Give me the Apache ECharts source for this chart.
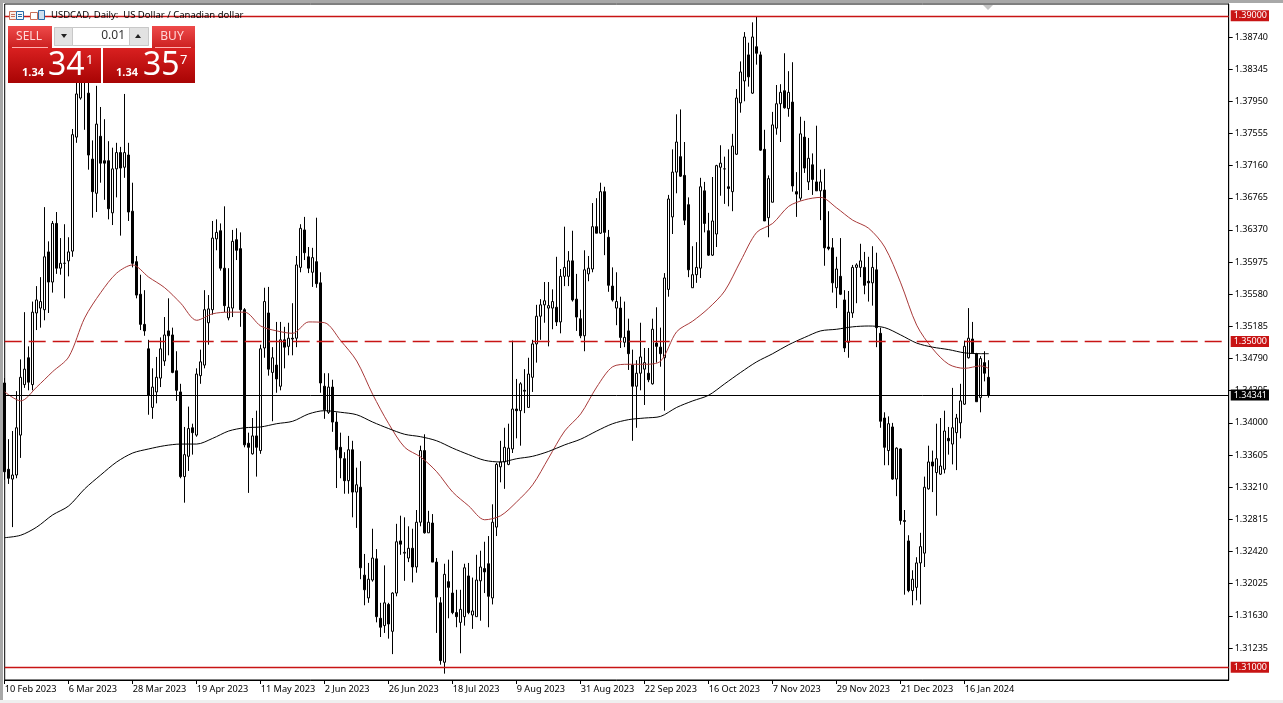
<!DOCTYPE html>
<html><head><meta charset="utf-8">
<style>html,body{margin:0;padding:0;background:#fff}#c{width:1283px;height:703px}</style>
<script src="https://cdn.jsdelivr.net/npm/echarts@6/dist/echarts.min.js"></script>
</head><body><div id="c"></div>
<script>
// prices in 1/10000 units
const opens=[13449,13343,13331,13336,13385,13447,13480,13447,13535,13541,
13539,13610,13573,13645,13590,13596,13599,13611,13751,13799,
13827,13805,13724,13682,13752,13722,13722,13658,13712,13732,
13714,13729,13660,13598,13558,13521,13491,13419,13438,13455,
13476,13513,13508,13464,13438,13334,13359,13394,13385,13458,
13471,13523,13539,13626,13636,13590,13529,13541,13625,13614,
13539,13375,13362,13384,13366,13492,13535,13462,13471,13445,
13502,13494,13504,13504,13591,13637,13604,13585,13598,13572,
13445,13413,13444,13401,13370,13356,13329,13367,13315,13321,
13213,13185,13207,13233,13160,13151,13177,13144,13191,13255,
13240,13234,13246,13223,13278,13366,13265,13277,13229,13179,
13106,13205,13191,13167,13155,13162,13212,13164,13162,13206,
13221,13227,13185,13272,13346,13352,13349,13368,13417,13415,
13440,13419,13456,13497,13531,13545,13541,13541,13542,13524,
13580,13580,13599,13552,13528,13507,13583,13589,13641,13633,
13684,13628,13568,13541,13541,13499,13513,13471,13445,13461,
13466,13461,13448,13498,13493,13480,13564,13653,13708,13727,
13704,13668,13566,13582,13590,13685,13636,13606,13632,13714,
13712,13690,13684,13730,13793,13820,13852,13805,13862,13852,
13736,13652,13671,13762,13792,13808,13786,13794,13684,13676,
13751,13696,13717,13696,13685,13686,13616,13615,13566,13580,
13551,13499,13535,13591,13591,13591,13574,13572,13588,13510,
13406,13366,13395,13331,13368,13280,13255,13194,13198,13228,
13240,13319,13352,13339,13337,13343,13381,13374,13388,13400,
13423,13480,13503,13485,13431,13474,13456];
const highs=[13455,13380,13390,13439,13478,13536,13494,13549,13568,13579,
13665,13623,13648,13659,13627,13644,13628,13761,13821,13846,
13846,13821,13747,13814,13788,13773,13746,13738,13744,13739,
13804,13744,13695,13605,13582,13563,13502,13467,13481,13505,
13530,13553,13517,13488,13448,13395,13420,13399,13467,13490,
13563,13557,13648,13650,13645,13666,13590,13637,13639,13634,
13541,13388,13406,13415,13496,13566,13567,13493,13524,13524,
13518,13523,13547,13605,13644,13653,13616,13615,13652,13585,
13461,13461,13453,13413,13388,13364,13384,13378,13345,13353,
13239,13228,13270,13245,13179,13225,13179,13192,13276,13286,
13284,13273,13270,13293,13372,13386,13292,13288,13234,13186,
13227,13232,13243,13195,13195,13227,13228,13210,13238,13243,
13254,13261,13300,13351,13378,13394,13399,13501,13454,13450,
13466,13480,13502,13545,13552,13573,13573,13564,13604,13589,
13641,13611,13636,13583,13539,13612,13605,13670,13676,13695,
13690,13637,13591,13585,13555,13549,13528,13490,13477,13523,
13492,13492,13528,13542,13517,13584,13680,13736,13779,13785,
13745,13677,13617,13622,13701,13696,13658,13702,13717,13741,
13727,13736,13755,13810,13844,13880,13867,13892,13899,13856,
13760,13704,13782,13815,13816,13854,13832,13843,13708,13776,
13771,13750,13731,13765,13711,13712,13660,13627,13604,13627,
13563,13562,13594,13596,13620,13610,13604,13617,13609,13517,
13413,13408,13400,13370,13369,13293,13262,13219,13235,13265,
13334,13372,13366,13399,13406,13415,13395,13443,13411,13448,
13501,13541,13524,13486,13482,13488,13477];
const lows=[13330,13325,13272,13332,13357,13443,13440,13440,13514,13517,
13526,13535,13560,13583,13582,13553,13580,13604,13744,13797,
13760,13711,13652,13659,13695,13674,13650,13643,13677,13630,
13701,13648,13591,13553,13514,13507,13410,13405,13424,13444,
13470,13483,13461,13427,13332,13302,13341,13361,13383,13448,
13467,13496,13533,13612,13587,13536,13526,13530,13600,13518,
13370,13314,13361,13334,13362,13480,13458,13402,13437,13440,
13467,13483,13483,13493,13585,13600,13584,13567,13566,13437,
13405,13411,13389,13320,13332,13313,13313,13284,13271,13208,
13176,13179,13205,13155,13137,13142,13135,13116,13187,13238,
13206,13229,13204,13216,13273,13264,13265,13229,13142,13103,
13092,13160,13165,13149,13117,13151,13165,13147,13162,13157,
13191,13149,13177,13261,13327,13319,13348,13363,13381,13372,
13412,13419,13438,13474,13502,13523,13494,13515,13519,13510,
13568,13568,13549,13513,13504,13488,13574,13585,13633,13632,
13606,13561,13549,13520,13492,13493,13465,13378,13394,13440,
13422,13450,13447,13474,13469,13415,13555,13632,13682,13702,
13643,13579,13566,13572,13578,13634,13605,13605,13616,13679,
13669,13666,13660,13729,13781,13795,13813,13804,13840,13734,
13648,13628,13671,13754,13745,13786,13776,13684,13653,13673,
13707,13686,13680,13685,13649,13593,13612,13560,13541,13557,
13487,13480,13529,13547,13579,13558,13549,13544,13493,13394,
13348,13348,13330,13310,13275,13189,13192,13176,13182,13177,
13223,13318,13315,13286,13336,13338,13361,13349,13342,13381,
13422,13479,13485,13426,13413,13451,13431];
const closes=[13340,13332,13336,13394,13456,13466,13450,13536,13551,13549,
13604,13573,13645,13590,13596,13596,13610,13754,13804,13833,
13819,13729,13684,13767,13719,13719,13663,13712,13732,13713,
13732,13659,13596,13557,13521,13513,13434,13444,13456,13491,
13508,13507,13462,13440,13334,13361,13393,13388,13460,13475,
13539,13540,13627,13634,13590,13544,13542,13623,13612,13539,
13373,13370,13384,13370,13491,13549,13466,13480,13454,13502,
13493,13504,13503,13594,13639,13609,13590,13603,13571,13449,
13416,13444,13401,13367,13357,13329,13367,13315,13324,13222,
13195,13208,13234,13162,13149,13179,13153,13191,13254,13251,
13241,13246,13223,13278,13366,13265,13278,13229,13186,13108,
13214,13198,13167,13162,13171,13222,13167,13169,13207,13223,
13217,13187,13278,13349,13352,13370,13369,13417,13415,13448,
13439,13460,13497,13531,13545,13550,13544,13549,13524,13580,
13591,13599,13551,13530,13507,13588,13590,13641,13633,13684,
13634,13569,13551,13549,13505,13505,13485,13445,13461,13481,
13474,13453,13515,13494,13485,13578,13675,13708,13745,13703,
13649,13588,13582,13591,13690,13645,13606,13648,13716,13719,
13712,13688,13740,13799,13831,13874,13825,13874,13854,13735,
13648,13700,13766,13792,13806,13787,13806,13691,13681,13755,
13713,13725,13699,13685,13696,13615,13614,13572,13589,13558,
13492,13536,13591,13594,13599,13569,13572,13591,13517,13402,
13370,13399,13331,13369,13280,13279,13194,13208,13228,13248,
13321,13352,13347,13356,13347,13390,13378,13394,13406,13427,
13494,13504,13486,13426,13479,13461,13434];
// moving averages (last one at the final bar)
const maFast=[13438,13427,13444,13463,13481,13529,13560,13584,13594,13579,13566,13547,13526,13534,13536,13536,13519,13513,13510,13524,13523,
13501,13476,13435,13399,13370,13358,13340,13315,13298,13281,13286,13303,13324,13357,13390,13411,13444,13469,13472,13472,13476,
13512,13525,13541,13562,13599,13634,13645,13666,13674,13677,13664,13649,13639,13616,13572,13520,13491,13472,13467,13470,13467];
const maSlow=[13259,13262,13272,13287,13298,13319,13336,13352,13363,13368,13372,13374,13374,13381,13390,13394,13395,13399,13402,13411,13415,
13413,13410,13401,13393,13386,13383,13378,13369,13361,13354,13352,13356,13359,13365,13373,13380,13390,13399,13404,13406,13408,
13419,13427,13434,13448,13462,13475,13485,13496,13505,13513,13515,13518,13519,13517,13508,13498,13493,13490,13486,13485,13485];
const tickLabels=['10 Feb 2023','6 Mar 2023','28 Mar 2023','19 Apr 2023','11 May 2023','2 Jun 2023','26 Jun 2023','18 Jul 2023','9 Aug 2023','31 Aug 2023','22 Sep 2023','16 Oct 2023','7 Nov 2023','29 Nov 2023','21 Dec 2023','16 Jan 2024'];
const priceTicks=[1.38740,1.38345,1.37950,1.37555,1.37160,1.36765,1.36370,1.35975,1.35580,1.35185,1.34790,1.34395,1.34000,1.33605,1.33210,1.32815,1.32420,1.32025,1.31630,1.31235];
const levelTop=1.39, levelMid=1.35, levelLow=1.31, lastPrice=1.34341;

const p=v=>v/10000;
const bars=opens.length, slots=307;
const categories=Array.from({length:slots},(_,i)=>(i%16===0&&tickLabels[i/16])||String(i));
const ohlc=opens.map((o,i)=>[p(o),p(closes[i]),p(lows[i]),p(highs[i])]);
function sampled(a){const d=new Array(bars).fill(null);a.forEach((v,k)=>{d[Math.min(k*4,bars-1)]=p(v)});return d;}
const font='"Noto Sans"';
const isTick=i=>i%16===0&&i<=240;
const red='#c81414';
function levelLabel(bg){return {show:true,position:'end',distance:2,color:'#fff',backgroundColor:bg,fontFamily:font,fontSize:9,padding:[1,2,1,3],lineHeight:9,formatter:o=>o.value.toFixed(5)};}

const txt=(x,y,t,size,fill,extra)=>({type:'text',z:103,silent:true,x,y,style:Object.assign({text:t,fontSize:size,fill,fontFamily:font,textVerticalAlign:'middle'},extra||{})});
const rect=(x,y,w,h,fill,extra)=>Object.assign({type:'rect',z:100,silent:true,shape:{x,y,width:w,height:h},style:{fill}},extra||{});
const boxed=(x,y,w,h,fill,stroke)=>({type:'rect',z:100,silent:true,shape:{x,y,width:w,height:h},style:{fill,stroke,lineWidth:1}});
const grad=(a,b)=>new echarts.graphic.LinearGradient(0,0,0,1,[{offset:0,color:a},{offset:1,color:b}]);

const graphic=[
 rect(0,0,1283,3,'#a8a8a8'),rect(0,0,3,703,'#a8a8a8'),rect(0,700,1283,3,'#efefef'),
 {type:'polygon',z:100,silent:true,shape:{points:[[983,5],[993,5],[988,10]]},style:{fill:'#c4c4c4'}},
 // title bar icons and title
 boxed(9.5,11.5,7,8,'#fbeee8','#c8705a'),boxed(16.5,11.5,7,8,'#f4f8fc','#2a6aa8'),
 rect(18,14,4,1,'#2a6aa8',{z:101}),rect(18,16,4,1,'#2a6aa8',{z:101}),
 rect(11,14,4,1,'#c8705a',{z:101}),rect(11,16,4,1,'#c8705a',{z:101}),
 boxed(30.5,12.5,7,7,'#fff','#c8705a'),boxed(38.5,10.5,6,9,'#cfe0f0','#2a6aa8'),
 txt(51,15.5,'USDCAD, Daily:  US Dollar / Canadian dollar',9.5,'#000'),
 // trade panel
 rect(8,26,44,22,null,{style:{fill:grad('#ee4a4a','#cc2020')}}),
 rect(152,26,43,22,null,{style:{fill:grad('#ee4a4a','#cc2020')}}),
 boxed(54.5,27.5,94,18,'#ffffff','#c8c8c8'),
 boxed(54.5,27.5,18,18,'#e2e2e2','#c8c8c8'),boxed(129.5,27.5,19,18,'#e2e2e2','#c8c8c8'),
 {type:'polygon',z:101,silent:true,shape:{points:[[61,34],[67,34],[64,38]]},style:{fill:'#222'}},
 {type:'polygon',z:101,silent:true,shape:{points:[[135,38],[141,38],[138,34]]},style:{fill:'#222'}},
 rect(8,48,93,35,null,{style:{fill:grad('#d92020','#a80404')}}),
 rect(103,48,92,35,null,{style:{fill:grad('#d92020','#a80404')}}),
 rect(12,47,36,1,'#ffb0b0',{z:102}),rect(155,47,36,1,'#ffb0b0',{z:102}),
 txt(29,37,'SELL',12,'#ffd8d8',{textAlign:'center'}),
 txt(172,37,'BUY',12,'#ffd8d8',{textAlign:'center'}),
 txt(125,36,'0.01',12,'#333',{textAlign:'right'}),
 txt(22,73,'1.34',11,'#fff',{fontWeight:'bold'}),
 txt(48,66,'34',32,'#fff'),
 txt(86,60,'1',13,'#fff'),
 txt(116,73,'1.34',11,'#fff',{fontWeight:'bold'}),
 txt(143,66,'35',32,'#fff'),
 txt(180,60,'7',13,'#fff')
];

const chart=echarts.init(document.getElementById('c'),null,{renderer:'canvas'});
chart.setOption({
 animation:false,backgroundColor:'#fff',
 grid:{left:4.7,top:4,width:1224,height:676,show:true,backgroundColor:'#fff',borderColor:'#000',borderWidth:1,containLabel:false},
 xAxis:{type:'category',data:categories,boundaryGap:false,
  axisLine:{show:true,onZero:false,lineStyle:{color:'#000'}},
  axisTick:{show:true,interval:i=>isTick(i),length:4,lineStyle:{color:'#000'}},
  axisLabel:{show:true,interval:i=>isTick(i),align:'left',margin:5,color:'#000',fontFamily:font,fontSize:9.2,
    formatter:v=>v},
  splitLine:{show:false}},
 yAxis:{type:'value',position:'right',min:1.30842,max:1.39145,scale:true,
  axisLine:{show:true,lineStyle:{color:'#000'}},
  axisTick:{show:true,length:4,customValues:priceTicks,lineStyle:{color:'#000'}},
  axisLabel:{show:true,margin:6,color:'#000',fontFamily:font,fontSize:9,padding:[2,0,0,0],customValues:priceTicks,formatter:v=>v.toFixed(5)},
  splitLine:{show:false}},
 graphic:{elements:graphic},
 series:[
  {type:'candlestick',data:ohlc,barWidth:3,clip:false,z:2,
   itemStyle:{color:'#fff',color0:'#000',borderColor:'#000',borderColor0:'#000',borderWidth:1},
   markLine:{silent:true,symbol:'none',precision:5,z:5,animation:false,
    data:[
     {yAxis:levelTop,lineStyle:{color:red,width:1.3,type:'solid'},label:levelLabel(red)},
     {yAxis:levelMid,lineStyle:{color:red,width:1.3,type:[17,7]},label:levelLabel(red)},
     {yAxis:levelLow,lineStyle:{color:red,width:1.3,type:'solid'},label:levelLabel(red)},
     {yAxis:lastPrice,lineStyle:{color:'#000',width:1,type:'solid'},label:levelLabel('#000')}
    ]}},
  {type:'line',data:sampled(maFast),connectNulls:true,showSymbol:false,symbol:'none',smooth:0.3,z:4,lineStyle:{color:'#a83a3a',width:1},silent:true},
  {type:'line',data:sampled(maSlow),connectNulls:true,showSymbol:false,symbol:'none',smooth:0.3,z:4,lineStyle:{color:'#000',width:1},silent:true}
 ]
});
</script></body></html>
